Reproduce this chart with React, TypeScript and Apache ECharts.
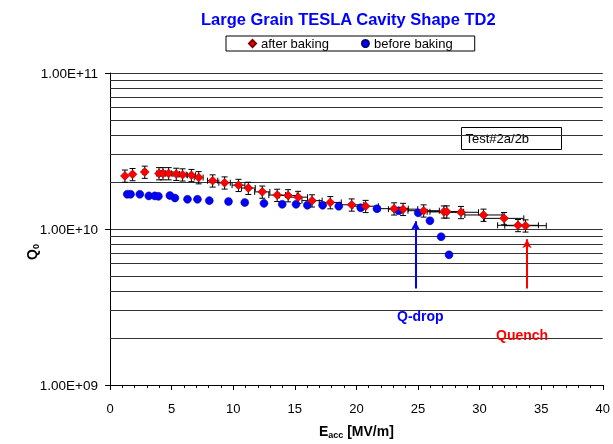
import React, { useEffect, useRef } from 'react';
import * as echarts from 'echarts';

// after baking (red diamonds, with error bars)
const afterE = [1.21, 1.83, 2.82, 3.98, 4.3, 4.76, 5.38, 5.89, 6.61, 7.2, 8.33, 9.3, 10.43, 11.23, 12.36, 13.57, 14.46, 15.27, 16.4, 17.88, 19.62, 20.75, 23.06, 23.79, 25.46, 27.1, 27.34, 28.49, 30.32, 31.99, 33.12, 33.73];
const afterQ = [2.19e10, 2.24e10, 2.32e10, 2.27e10, 2.27e10, 2.27e10, 2.25e10, 2.23e10, 2.21e10, 2.14e10, 2.04e10, 1.98e10, 1.91e10, 1.83e10, 1.73e10, 1.65e10, 1.64e10, 1.6e10, 1.52e10, 1.48e10, 1.43e10, 1.4e10, 1.35e10, 1.34e10, 1.31e10, 1.29e10, 1.29e10, 1.28e10, 1.23e10, 1.17e10, 1.056e10, 1.05e10];
// before baking (blue circles)
const beforeE = [1.4, 1.67, 2.42, 3.15, 3.63, 3.93, 4.86, 5.27, 6.29, 7.1, 8.06, 9.62, 10.94, 12.5, 13.98, 15.1, 16.02, 17.26, 18.57, 20.35, 21.67, 23.44, 25.02, 25.97, 26.88, 27.52];
const beforeQ = [1.67e10, 1.67e10, 1.67e10, 1.63e10, 1.63e10, 1.62e10, 1.64e10, 1.58e10, 1.55e10, 1.55e10, 1.52e10, 1.5e10, 1.48e10, 1.46e10, 1.44e10, 1.44e10, 1.42e10, 1.42e10, 1.4e10, 1.37e10, 1.35e10, 1.31e10, 1.27e10, 1.13e10, 8.93e9, 6.83e9];
// measurement uncertainty (relative)
const errQRel = 0.09;
const errERel = 0.05;
// minor gridlines on the log axis
const minorGridValues = [2e9, 3e9, 4e9, 5e9, 6e9, 7e9, 8e9, 9e9, 2e10, 3e10, 4e10, 5e10, 6e10, 7e10, 8e10, 9e10];
// annotation arrows [E, Qstart, Qend]
const qDropArrow = [24.8, 4.15e9, 1.12e10];
const quenchArrow = [33.85, 4.15e9, 8.6e9];

const FONT = 'Liberation Sans, Arial, sans-serif';

function fmtExp(v: number): string {
  const e = Math.round(Math.log10(v));
  const m = v / Math.pow(10, e);
  const s = e < 0 ? '-' : '+';
  const a = Math.abs(e);
  return m.toFixed(2) + 'E' + s + (a < 10 ? '0' + a : String(a));
}

export default function App() {
  const ref = useRef<HTMLDivElement>(null);
  useEffect(() => {
    if (!ref.current) return;
    const chart = echarts.init(ref.current, undefined, { renderer: 'svg' });
    const afterData = afterE.map((e, i) => [e, afterQ[i]]);
    const beforeData = beforeE.map((e, i) => [e, beforeQ[i]]);
    const errData = afterE.map((e, i) => [
      e,
      afterQ[i],
      e * (1 - errERel),
      e * (1 + errERel),
      afterQ[i] * (1 - errQRel),
      afterQ[i] * (1 + errQRel),
    ]);
    const option: any = {
      animation: false,
      textStyle: { fontFamily: FONT },
      title: {
        text: 'Large Grain TESLA Cavity Shape TD2',
        left: 196,
        top: 5,
        textStyle: { color: '#0000ff', fontSize: 16.5, fontWeight: 'bold', fontFamily: FONT },
      },
      legend: {
        left: 226,
        top: 36,
        padding: [1, 22, 1, 22],
        itemGap: 32,
        itemWidth: 7,
        itemHeight: 7,
        borderColor: '#000',
        borderWidth: 1,
        textStyle: { fontSize: 13, color: '#000', fontFamily: FONT },
        data: [
          { name: 'after baking', icon: 'diamond' },
          { name: 'before baking', icon: 'circle' },
        ],
      },
      grid: { left: 110, right: 7, top: 73, bottom: 57 },
      xAxis: {
        type: 'value',
        min: 0,
        max: 40,
        interval: 5,
        name: '{e|E}{s|acc}{e| [MV/m]}',
        nameLocation: 'middle',
        nameGap: 38,
        nameMoveOverlap: false,
        nameTextStyle: {
          rich: {
            e: { fontSize: 14, fontWeight: 'bold', color: '#000', fontFamily: FONT, lineHeight: 16 },
            s: { fontSize: 9, fontWeight: 'bold', color: '#000', fontFamily: FONT, lineHeight: 16, verticalAlign: 'bottom', padding: [6, 0, 0, 0] },
          },
        },
        axisLine: { lineStyle: { color: '#000', width: 1 } },
        axisTick: { length: 5, lineStyle: { color: '#000' } },
        minorTick: { show: true, splitNumber: 5, length: 3, lineStyle: { color: '#000' } },
        axisLabel: { fontSize: 13, color: '#000', margin: 17, fontFamily: FONT },
        splitLine: { show: false },
      },
      yAxis: {
        type: 'log',
        logBase: 10,
        min: 1e9,
        max: 1e11,
        name: '{q|Q}{s|0}',
        nameLocation: 'middle',
        nameGap: 70,
        nameMoveOverlap: false,
        nameRotate: 90,
        nameTextStyle: {
          padding: [0, 46, 0, 0],
          rich: {
            q: { fontSize: 14, fontWeight: 'bold', color: '#000', fontFamily: FONT, lineHeight: 16 },
            s: { fontSize: 9, fontWeight: 'bold', color: '#000', fontFamily: FONT, lineHeight: 16, verticalAlign: 'bottom', padding: [6, 0, 0, 0] },
          },
        },
        axisLine: { show: true, lineStyle: { color: '#000', width: 1 } },
        axisTick: { show: true, length: 5, lineStyle: { color: '#000' } },
        axisLabel: { fontSize: 13.5, color: '#000', margin: 12, fontFamily: FONT, formatter: (v: number) => fmtExp(v) },
        splitLine: { show: true, lineStyle: { color: '#333', width: 1 } },
      },
      graphic: [
        {
          type: 'group',
          left: 461,
          top: 127,
          z: 100,
          children: [
            { type: 'rect', shape: { x: 0, y: 0, width: 100, height: 22 }, style: { fill: '#fff', stroke: '#000', lineWidth: 1 } },
            { type: 'text', x: 4, y: 11, style: { text: 'Test#2a/2b', fill: '#000', font: '13px ' + FONT, textVerticalAlign: 'middle' } },
          ],
        },
        {
          type: 'text',
          left: 397,
          top: 309,
          z: 100,
          style: { text: 'Q-drop', fill: '#0000ff', font: 'bold 14px ' + FONT },
        },
        {
          type: 'text',
          left: 496,
          top: 328,
          z: 100,
          style: { text: 'Quench', fill: '#ff0000', font: 'bold 14px ' + FONT },
        },
      ],
      series: [
        {
          name: 'grid',
          type: 'scatter',
          data: [],
          z: 1,
          silent: true,
          markLine: {
            silent: true,
            z: 1,
            symbol: ['none', 'none'],
            label: { show: false },
            lineStyle: { color: '#333', width: 1, type: 'solid' },
            data: minorGridValues.map((v) => ({ yAxis: v })),
          },
        },
        {
          name: 'err',
          type: 'custom',
          z: 3,
          silent: true,
          data: errData,
          encode: { x: 0, y: 1 },
          renderItem: (params: any, api: any) => {
            const x = api.value(0);
            const y = api.value(1);
            const c = api.coord([x, y]);
            const t = api.coord([x, api.value(5)]);
            const b = api.coord([x, api.value(4)]);
            const l = api.coord([api.value(2), y]);
            const r = api.coord([api.value(3), y]);
            const cap = 3;
            const st = { stroke: '#000', lineWidth: 1 };
            return {
              type: 'group',
              children: [
                { type: 'line', shape: { x1: c[0], y1: t[1], x2: c[0], y2: b[1] }, style: st },
                { type: 'line', shape: { x1: c[0] - cap, y1: t[1], x2: c[0] + cap, y2: t[1] }, style: st },
                { type: 'line', shape: { x1: c[0] - cap, y1: b[1], x2: c[0] + cap, y2: b[1] }, style: st },
                { type: 'line', shape: { x1: l[0], y1: c[1], x2: r[0], y2: c[1] }, style: st },
                { type: 'line', shape: { x1: l[0], y1: c[1] - cap, x2: l[0], y2: c[1] + cap }, style: st },
                { type: 'line', shape: { x1: r[0], y1: c[1] - cap, x2: r[0], y2: c[1] + cap }, style: st },
              ],
            };
          },
        },
        {
          name: 'before baking',
          type: 'scatter',
          symbol: 'circle',
          symbolSize: 8,
          z: 4,
          itemStyle: { color: '#0000ff', borderColor: '#000080', borderWidth: 0.5, opacity: 1 },
          data: beforeData,
          markLine: {
            silent: true,
            symbol: ['none', 'arrow'],
            symbolSize: [7, 9],
            label: { show: false },
            lineStyle: { width: 2, type: 'solid' },
            data: [
              [
                { coord: [qDropArrow[0], qDropArrow[1]], lineStyle: { color: '#0000ff' } },
                { coord: [qDropArrow[0], qDropArrow[2]] },
              ],
              [
                { coord: [quenchArrow[0], quenchArrow[1]], lineStyle: { color: '#ff0000' } },
                { coord: [quenchArrow[0], quenchArrow[2]] },
              ],
            ],
          },
        },
        {
          name: 'after baking',
          type: 'scatter',
          symbol: 'diamond',
          symbolSize: 9,
          z: 5,
          itemStyle: { color: '#ff0000', borderColor: '#800000', borderWidth: 0.5, opacity: 1 },
          data: afterData,
        },
      ],
    };
    chart.setOption(option);
    return () => chart.dispose();
  }, []);
  return <div ref={ref} style={{ position: 'fixed', left: 0, top: 0, width: 613, height: 444 }} />;
}
